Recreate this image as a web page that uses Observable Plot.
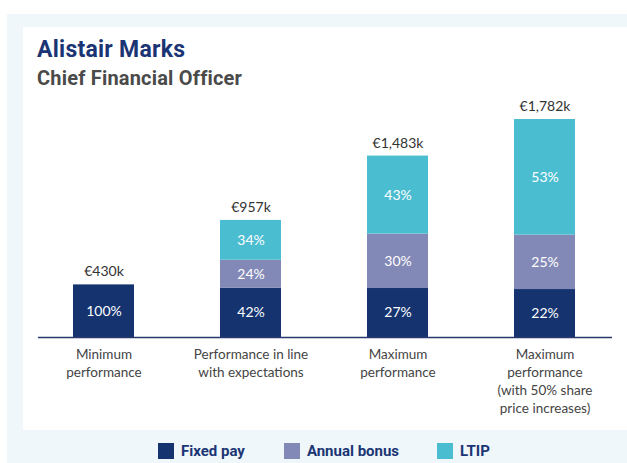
<!DOCTYPE html>
<html><head><meta charset="utf-8">
<script src="https://cdn.jsdelivr.net/npm/d3@7"></script>
<script src="https://cdn.jsdelivr.net/npm/@observablehq/plot@0.6"></script>
<style>
body{margin:0;width:627px;height:463px;position:relative;overflow:hidden;background:#fff;font-family:Lato,sans-serif}
#outer{position:absolute;left:7px;top:14px;width:620px;height:449px;background:#eff7fa}
#panel{position:absolute;left:23px;top:27px;width:604px;height:403px;background:#fff}
#title{position:absolute;left:37px;top:36px;font:bold 23px Roboto,sans-serif;letter-spacing:0.25px;color:#1b3574;white-space:nowrap;line-height:28px}
#subtitle{position:absolute;left:37px;top:65px;font:bold 20px Roboto,sans-serif;letter-spacing:0.2px;color:#4a4a4a;white-space:nowrap;line-height:26px}
#chart{position:absolute;left:0;top:90px}
#legend{position:absolute;left:158px;top:443px;display:flex;align-items:center;font:bold 15px Roboto,sans-serif;color:#1b3574;line-height:16px}
#legend .sw{width:16px;height:16px;display:inline-block}
#legend .lab{margin-left:7px}
</style>
</head><body>
<div id="outer"></div>
<div id="panel"></div>
<div id="title">Alistair Marks</div>
<div id="subtitle">Chief Financial Officer</div>
<div id="chart"></div>
<div id="legend"></div>
<script>
const categories = ["Minimum\nperformance", "Performance in line\nwith expectations", "Maximum\nperformance", "Maximum\nperformance\n(with 50% share\nprice increases)"];
const totals = [430, 957, 1483, 1782];
const series = ["Fixed pay", "Annual bonus", "LTIP"];
const colors = ["#14336f", "#8389b6", "#4bbdd0"];
const fixedPct = [100, 42, 27, 22];
const bonusPct = [0, 24, 30, 25];
const ltipPct = [0, 34, 43, 53];

const pcts = [fixedPct, bonusPct, ltipPct];
const rows = [];
categories.forEach((c, i) => {
  series.forEach((s, j) => {
    const p = pcts[j][i];
    if (p > 0) rows.push({cat: c, series: s, pct: p, value: totals[i] * p / 100});
  });
});
const totalRows = categories.map((c, i) => ({cat: c, total: totals[i], label: "€" + d3.format(",")(totals[i]) + "k"}));

const chart = Plot.plot({
  width: 627,
  height: 330,
  marginLeft: 38,
  marginRight: 15,
  marginTop: 29,
  marginBottom: 83,
  style: {fontFamily: "Lato, sans-serif", background: "transparent", overflow: "visible"},
  x: {domain: categories, range: [29, 619], paddingInner: 0.587, paddingOuter: 0.2935, label: null},
  y: {domain: [0, d3.max(totals)], axis: null},
  color: {domain: series, range: colors},
  marks: [
    Plot.barY(rows, {x: "cat", y: "value", fill: "series"}),
    Plot.text(rows, Plot.stackY({x: "cat", y: "value", z: "series", text: d => d.pct + "%", fill: "white", fontSize: 14})),
    Plot.text(totalRows, {x: "cat", y: "total", text: "label", dy: -13, fill: "#333", fontSize: 14}),
    Plot.ruleY([0], {stroke: "#2b3a6e", strokeWidth: 1.5}),
    Plot.axisX({tickSize: 0, tickPadding: 9, fontSize: 13.5, fill: "#444", lineHeight: 1.33, label: null})
  ]
});
document.getElementById("chart").appendChild(chart);

const lg = document.getElementById("legend");
const gaps = [0, 39, 38];
series.forEach((s, i) => {
  const sw = document.createElement("span");
  sw.className = "sw";
  sw.style.background = colors[i];
  sw.style.marginLeft = gaps[i] + "px";
  const lab = document.createElement("span");
  lab.className = "lab";
  lab.textContent = s;
  lg.appendChild(sw);
  lg.appendChild(lab);
});
</script>
</body></html>
